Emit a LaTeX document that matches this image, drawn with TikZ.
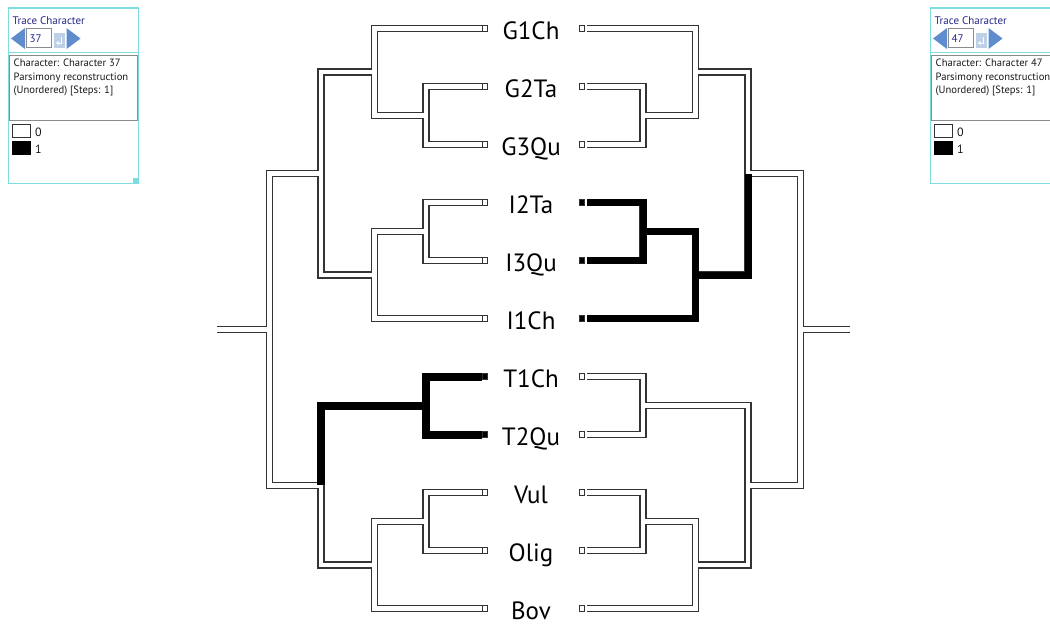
\documentclass[tikz,border=0pt]{standalone}
\usepackage{fontspec}
\setmainfont{PT Sans}
\usepackage{tikz}
\definecolor{panelcyan}{RGB}{125,220,222}
\definecolor{tracenavy}{RGB}{40,40,135}
\definecolor{arrowblue}{RGB}{95,140,205}
\definecolor{enterblue}{RGB}{190,208,232}
\definecolor{framegray}{RGB}{140,140,140}
%parent/child pairs of the cladogram, same for both trees
\newcommand{\treeedges}{root/GI, root/TV, GI/G, GI/I, G/G1Ch, G/G23, G23/G2Ta, G23/G3Qu, I/I23, I/I1Ch, I23/I2Ta, I23/I3Qu, TV/T, TV/VOB, T/T1Ch, T/T2Qu, VOB/VO, VOB/Bov, VO/Vul, VO/Olig}
%trace character panel: #1 x offset, #2 character number, #3 name prefix
\newcommand{\tracepanel}[3]{%
	\begin{scope}[xshift=#1pt]
		%frame
		\draw[panelcyan, line width=1.5pt, fill=white] (8.5,8) rectangle (138.5,183.5);
		\fill[panelcyan] (133,178) rectangle (139,184);
		\node[paneltitle] (#3-title) at (12.5,24) {Trace Character};
		%stepper: left arrow, number field, enter key, right arrow
		\fill[arrowblue] (11,38.5) -- (25,28) -- (25,49) -- cycle;
		\draw[framegray, line width=0.8pt, fill=white] (26,28.5) rectangle (51.5,47.5);
		\node[paneltitle] (#3-num) at (29.5,42.3) {#2};
		\fill[enterblue] (54,32.5) rectangle (64.5,48);
		\draw[white, line width=0.8pt] (61.5,37) -- (61.5,43) -- (58,43);
		\fill[white] (56,43) -- (58.5,41) -- (58.5,45) -- cycle;
		\fill[arrowblue] (66.5,28) -- (80.5,38.5) -- (66.5,49) -- cycle;
		%description box
		\draw[panelcyan, line width=1pt] (8.5,52.5) -- (138.5,52.5);
		\draw[framegray, line width=0.8pt] (9.5,55) rectangle (137.5,120);
		\node[paneltext] (#3-desc1) at (13.5,66.5) {Character: Character #2};
		\node[paneltext] (#3-desc2) at (13.5,80) {Parsimony reconstruction};
		\node[paneltext] (#3-desc3) at (13.5,93) {(Unordered) [Steps: 1]};
		%legend
		\draw[black!80, line width=0.8pt, fill=white] (12.5,124.5) rectangle (30.5,137);
		\fill[black] (12,141) rectangle (31,154.5);
		\node[legendtext] (#3-zero) at (35,136.7) {0};
		\node[legendtext] (#3-one) at (35,153.5) {1};
	\end{scope}}

\begin{document}
\begin{tikzpicture}[x=1pt,y=-1pt,
	hollowout/.style={line width=7.2pt, draw=black!80},
	hollowin/.style={line width=4.6pt, draw=white},
	traceL/.style={line width=8pt, draw=black},
	traceR/.style={line width=7pt, draw=black},
	tipL/.style={draw=black!80, line width=0.9pt, minimum size=5.4pt, inner sep=0pt},
	tipR/.style={tipL, outer sep=2pt},
	taxon/.style={font=\fontsize{25}{30}\selectfont, anchor=base, inner sep=0pt},
	paneltitle/.style={font=\fontsize{11}{13}\selectfont, text=tracenavy, anchor=base west, inner sep=0pt},
	paneltext/.style={font=\fontsize{10.6}{12}\selectfont, text=black!90, anchor=base west, inner sep=0pt},
	legendtext/.style={paneltext, font=\fontsize{12}{14}\selectfont}]

%%%%%%%%%%%%%%%%%%%%%%%%%%%%%%%%%%%%%%%%%%%%%%%%%%%%%%%%%%%%%%%%%%%%%%%%%%%%%%%%%%%%%%%%%%%%%%%%%%%
%																								  %
%	Two mirrored traces of the same tree: character 37 (left) and character 47 (right)		  %
%																								  %
%%%%%%%%%%%%%%%%%%%%%%%%%%%%%%%%%%%%%%%%%%%%%%%%%%%%%%%%%%%%%%%%%%%%%%%%%%%%%%%%%%%%%%%%%%%%%%%%%%%

	\useasboundingbox (0,0) rectangle (1050,624);
	\clip (0,0) rectangle (1050,624);
	\fill[white] (0,0) rectangle (1050,624);

	%Define the heights of the inner nodes (rows are 58 apart, first at 28.5)
	\pgfmathsetmacro{\yGtt}{28.5+1.5*58}
	\pgfmathsetmacro{\yG}{(28.5+\yGtt)/2}
	\pgfmathsetmacro{\yItt}{28.5+3.5*58}
	\pgfmathsetmacro{\yI}{(\yItt+28.5+5*58)/2}
	\pgfmathsetmacro{\yGI}{(\yG+\yI)/2}
	\pgfmathsetmacro{\yT}{28.5+6.5*58}
	\pgfmathsetmacro{\yVO}{28.5+8.5*58}
	\pgfmathsetmacro{\yVOB}{(\yVO+28.5+10*58)/2}
	\pgfmathsetmacro{\yTV}{(\yT+\yVOB)/2}
	\pgfmathsetmacro{\yroot}{(\yGI+\yTV)/2}

	%Taxon labels and tip boxes, fill gives the state on each side
	\foreach \name/\lfill/\rfill [count=\i from 0] in {G1Ch/white/white, G2Ta/white/white, G3Qu/white/white, I2Ta/white/black, I3Qu/white/black, I1Ch/white/black, T1Ch/black/white, T2Qu/black/white, Vul/white/white, Olig/white/white, Bov/white/white} {
		\pgfmathsetmacro{\yy}{28.5+58*\i}
		\node[taxon] (t-\name) at (531,\yy+11) {\name};
		\node[tipL, fill=\lfill] (L-\name) at (485,\yy) {};
		\node[tipR, fill=\rfill] (R-\name) at (582,\yy) {};
	}

	%Inner nodes, depth levels a..d and the root stub e
	\foreach \s/\xa/\xb/\xc/\xd/\xe in {L/426/374.5/321/269.5/217, R/643/695.5/748/800.5/850} {
		\coordinate (\s-G23) at (\xa,\yGtt);
		\coordinate (\s-I23) at (\xa,\yItt);
		\coordinate (\s-T) at (\xa,\yT);
		\coordinate (\s-VO) at (\xa,\yVO);
		\coordinate (\s-G) at (\xb,\yG);
		\coordinate (\s-I) at (\xb,\yI);
		\coordinate (\s-VOB) at (\xb,\yVOB);
		\coordinate (\s-GI) at (\xc,\yGI);
		\coordinate (\s-TV) at (\xc,\yTV);
		\coordinate (\s-root) at (\xd,\yroot);
		\coordinate (\s-stub) at (\xe,\yroot);
	}

	%Hollow branches: dark outline first, then white inside
	\foreach \s in {L,R} {
		\draw[hollowout] (\s-root) -- (\s-stub);
		\foreach \p/\q in \treeedges \draw[hollowout] (\s-\p) |- (\s-\q);
	}
	\foreach \s in {L,R} {
		\draw[hollowin] (\s-root) -- (\s-stub);
		\foreach \p/\q in \treeedges \draw[hollowin] (\s-\p) |- (\s-\q);
	}

	%Traced state 1: T clade on the left, I clade on the right
	\draw[traceL] (L-TV) |- (L-T);
	\foreach \q in {T1Ch,T2Qu} \draw[traceL] (L-T) |- (L-\q);
	\draw[traceR] (R-GI) |- (R-I);
	\draw[traceR] (R-I) |- (R-I23);
	\draw[traceR] (R-I) |- (R-I1Ch);
	\foreach \q in {I2Ta,I3Qu} \draw[traceR] (R-I23) |- (R-\q);

	%Panels
	\tracepanel{0}{37}{pl}
	\tracepanel{922}{47}{pr}

\end{tikzpicture}
\end{document}
